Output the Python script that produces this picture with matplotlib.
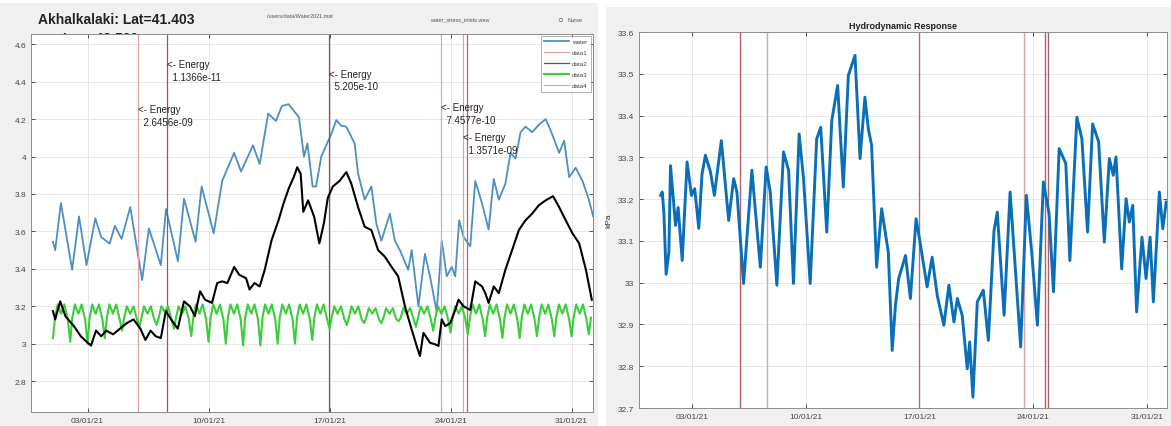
import numpy as np
import matplotlib.pyplot as plt
import matplotlib.dates as mdates
from matplotlib.patches import Rectangle
from matplotlib.ticker import FuncFormatter

plt.rcParams['font.family'] = ['Liberation Sans', 'DejaVu Sans']

# days since 01/01/21 00:00
water_t = [0, 0.13, 0.46, 1.11, 1.51, 1.94, 2.45, 2.79, 3.28, 3.58, 3.97, 4.47, 5.16, 5.55,
           6.24, 6.54, 7.23, 7.58, 8.25, 8.6, 9.3, 9.79, 10.48, 10.88, 11.57, 11.96, 12.45,
           12.9, 13.24, 13.63, 14.23, 14.52, 14.72, 15.02, 15.22, 15.52, 16.1, 16.39, 16.68,
           16.97, 17.45, 17.65, 18.03, 18.42, 18.71, 19.0, 19.49, 19.78, 20.07, 20.55, 20.75,
           21.14, 21.52, 21.81, 22.2, 22.49, 22.78, 23.07, 23.27, 23.5, 23.75, 24.14, 24.43,
           24.82, 25.2, 25.5, 25.79, 26.17, 26.47, 26.76, 27.05, 27.34, 27.72, 28.11, 28.5,
           28.79, 29.28, 29.57, 29.86, 30.24, 30.63, 31.0, 31.25]
water_v = [3.545, 3.50, 3.752, 3.395, 3.68, 3.42, 3.67, 3.57, 3.535, 3.63, 3.56, 3.73, 3.34, 3.616,
           3.42, 3.72, 3.44, 3.775, 3.545, 3.84, 3.59, 3.87, 4.02, 3.92, 4.06, 3.96, 4.23,
           4.19, 4.27, 4.28, 4.21, 4.0, 4.07, 3.84, 3.84, 4.0, 4.12, 4.195, 4.165,
           4.16, 4.07, 3.91, 3.77, 3.84, 3.64, 3.55, 3.695, 3.55, 3.50, 3.395, 3.50,
           3.20, 3.48, 3.36, 3.17, 3.55, 3.36, 3.41, 3.36, 3.66, 3.57, 3.52, 3.87,
           3.75, 3.61, 3.88, 3.77, 3.855, 4.02, 3.99, 4.13, 4.16, 4.13, 4.17, 4.20,
           4.14, 4.02, 4.085, 3.89, 3.94, 3.87, 3.77, 3.68]

stage_t = [0, 0.13, 0.42, 0.72, 1.21, 1.61, 1.9, 2.2, 2.49, 2.79, 3.08, 3.48, 3.87, 4.27, 4.66,
           5.06, 5.35, 5.65, 5.94, 6.24, 6.53, 6.83, 7.22, 7.58, 7.92, 8.21, 8.51, 8.8, 9.2,
           9.5, 9.79, 10.09, 10.48, 10.78, 11.17, 11.37, 11.66, 11.96, 12.25, 12.65, 13.05,
           13.34, 13.64, 13.93, 14.13, 14.33, 14.48, 14.76, 15.11, 15.41, 15.67, 15.9, 16.19,
           16.58, 16.97, 17.26, 17.65, 18.03, 18.42, 18.81, 19.2, 19.59, 19.97, 20.36, 20.75,
           21.04, 21.23, 21.43, 21.81, 22.1, 22.3, 22.49, 22.69, 22.98, 23.27, 23.46, 23.75,
           24.14, 24.43, 24.82, 25.01, 25.2, 25.5, 25.79, 26.17, 26.56, 26.95, 27.34, 27.72,
           28.11, 28.5, 28.93, 29.28, 29.66, 30.05, 30.44, 30.83, 31.17]
stage_v = [3.174, 3.13, 3.226, 3.147, 3.094, 3.04, 3.014, 2.99, 3.07, 3.04, 3.07, 3.05, 3.08, 3.11, 3.13,
           3.08, 3.02, 3.07, 3.04, 3.03, 3.174, 3.13, 3.08, 3.226, 3.20, 3.147, 3.28, 3.235, 3.218,
           3.324, 3.333, 3.324, 3.41, 3.368, 3.35, 3.29, 3.324, 3.306, 3.395, 3.554, 3.66,
           3.75, 3.83, 3.89, 3.943, 3.908, 3.705, 3.766, 3.678, 3.536, 3.642, 3.78, 3.84,
           3.87, 3.917, 3.855, 3.73, 3.625, 3.607, 3.50, 3.465, 3.41, 3.36, 3.20, 3.076,
           2.988, 2.934, 3.058, 3.005, 2.997, 2.988, 3.13, 3.094, 3.11, 3.18, 3.235, 3.20,
           3.18, 3.333, 3.306, 3.27, 3.218, 3.306, 3.27, 3.395, 3.50, 3.607, 3.66, 3.695,
           3.74, 3.766, 3.788, 3.73, 3.66, 3.59, 3.536, 3.395, 3.235]

# daily cycle of data3: trough at start of each day, two peaks between
tide_trough = [3.03, 3.01, 3.00, 3.03, 3.07, 3.09, 3.10, 3.08, 3.04, 3.01, 3.00, 2.99, 2.99, 3.00,
               3.00, 3.02, 3.08, 3.10, 3.11, 3.11, 3.12, 3.09, 3.07, 3.06, 3.05, 3.04, 3.03, 3.03,
               3.04, 3.04, 3.04, 3.05]
tide_peak = [3.21, 3.21, 3.21, 3.21, 3.20, 3.20, 3.20, 3.20, 3.21, 3.21, 3.21, 3.21, 3.21, 3.21,
             3.21, 3.21, 3.20, 3.20, 3.19, 3.19, 3.19, 3.20, 3.20, 3.20, 3.21, 3.21, 3.21, 3.21,
             3.21, 3.21, 3.21, 3.21]
tide_dip = [3.16, 3.16, 3.16, 3.16, 3.16, 3.16, 3.17, 3.16, 3.16, 3.16, 3.16, 3.16, 3.16, 3.16,
            3.16, 3.16, 3.16, 3.16, 3.16, 3.16, 3.16, 3.16, 3.16, 3.16, 3.16, 3.16, 3.16, 3.16,
            3.16, 3.16, 3.16, 3.16]

hydro_t = [0.06, 0.16, 0.26, 0.4, 0.57, 0.67, 0.98, 1.14, 1.39, 1.69, 1.96, 2.16, 2.41, 2.61, 2.82,
           3.13, 3.37, 3.8, 4.25, 4.56, 4.76, 5.17, 5.68, 6.2, 6.56, 6.81, 7.22, 7.63, 7.94, 8.24,
           8.59, 8.86, 9.27, 9.67, 9.92, 10.29, 10.6, 10.96, 11.31, 11.62, 12.03, 12.34, 12.64,
           12.85, 13.05, 13.36, 13.67, 14.08, 14.32, 14.52, 14.72, 15.14, 15.44, 15.79, 16.0,
           16.47, 16.78, 17.09, 17.5, 17.81, 18.12, 18.33, 18.63, 18.94, 19.09, 19.29, 19.56,
           19.93, 20.24, 20.59, 20.79, 21.21, 21.58, 22.23, 22.58, 22.91, 23.26, 23.63, 23.98,
           24.25, 24.6, 25.01, 25.26, 25.69, 26.0, 26.35, 26.66, 27.03, 27.38, 27.69, 27.93,
           28.1, 28.45, 28.72, 28.92, 29.13, 29.37, 29.7, 29.95, 30.2, 30.4, 30.77, 30.98, 31.19]
hydro_v = [33.209, 33.217, 33.169, 33.02, 33.073, 33.28, 33.137, 33.18, 33.053, 33.289, 33.209,
           33.225, 33.13, 33.26, 33.305, 33.265, 33.209, 33.34, 33.149, 33.249, 33.217, 32.998,
           33.269, 33.037, 33.277, 33.217, 32.994, 33.313, 33.269, 32.998, 33.356, 33.249, 32.998,
           33.344, 33.372, 33.121, 33.388, 33.472, 33.229, 33.496, 33.544, 33.297, 33.444, 33.368,
           33.329, 33.037, 33.177, 33.073, 32.838, 32.946, 33.01, 33.065, 32.962, 33.153, 33.105,
           32.99, 33.061, 32.97, 32.898, 32.994, 32.906, 32.962, 32.922, 32.794, 32.858, 32.726,
           32.954, 32.982, 32.862, 33.125, 33.169, 32.922, 33.217, 32.846, 33.209, 33.073, 32.898,
           33.241, 33.165, 32.978, 33.321, 33.285, 33.053, 33.396, 33.344, 33.121, 33.38, 33.337,
           33.097, 33.297, 33.257, 33.301, 33.033, 33.201, 33.145, 33.185, 32.93, 33.109, 33.01,
           33.109, 32.954, 33.217, 33.129, 33.193]

event_t = [4.93, 6.6, 15.95, 22.46, 23.7, 23.93]
event_energy = ['2.6456e-09', '1.1366e-11', '5.205e-10', '7.4577e-10', '1.3571e-09', None]
event_label_y = [4.22, 4.46, 4.41, 4.23, 4.07, None]
left_event_colors = ['#e3a3a3', '#a85050', '#a04848', '#e3a3a3', '#e3a3a3', '#b86060']
right_event_colors = ['#b86060', '#dba0a0', '#b07070', '#dba0a0', '#b86060', '#b06060']

start = np.datetime64('2021-01-01T00:00')


def to_dates(t):
    return start + (np.asarray(t) * 86400).astype('timedelta64[s]')


# build data3 path from the daily values
tide_t, tide_v = [], []
for d in range(len(tide_trough)):
    tide_t += [d, d + 0.12, d + 0.27, d + 0.47, d + 0.66, d + 0.86]
    tide_v += [tide_trough[d], 3.14, tide_peak[d], tide_dip[d], tide_peak[d], 3.13]
tide_t = [t for t in tide_t if t <= 31.2]
tide_v = tide_v[:len(tide_t)]

fig = plt.figure(figsize=(11.71, 4.27), dpi=100, facecolor='white')
fig.patches.append(Rectangle((0, 0), 598 / 1171, 423 / 427, transform=fig.transFigure,
                             facecolor='#f0f0f0', edgecolor='none', zorder=-5))
fig.patches.append(Rectangle((606 / 1171, 0), 565 / 1171, 419 / 427, transform=fig.transFigure,
                             facecolor='#f0f0f0', edgecolor='none', zorder=-5))

ax1 = fig.add_axes([31 / 1171, 14 / 427, 562 / 1171, 378 / 427])
ax2 = fig.add_axes([639 / 1171, 18 / 427, 528 / 1171, 376 / 427])

xlo = to_dates([-1.27])[0]
xhi = to_dates([31.24])[0]
ticks = [np.datetime64('2021-01-03'), np.datetime64('2021-01-10'), np.datetime64('2021-01-17'),
         np.datetime64('2021-01-24'), np.datetime64('2021-01-31')]

for ax in (ax1, ax2):
    ax.set_xlim(xlo, xhi)
    ax.set_xticks(ticks)
    ax.xaxis.set_major_formatter(mdates.DateFormatter('%d/%m/%y'))
    ax.grid(True, color='#e6e6e6', lw=0.7)
    ax.set_axisbelow(True)
    ax.tick_params(direction='in', length=3, width=0.6, labelsize=6, colors='#333333',
                   top=True, right=True, labelcolor='#444444')
    for s in ax.spines.values():
        s.set_color('#8c8c8c')
        s.set_linewidth(0.7)
    ax.yaxis.set_major_formatter(FuncFormatter(lambda v, p: '%g' % round(v, 2)))

# left panel
ax1.set_ylim(2.635, 4.655)
ax1.set_yticks([2.8, 3.0, 3.2, 3.4, 3.6, 3.8, 4.0, 4.2, 4.4, 4.6])
ax1.plot(to_dates(water_t), water_v, color='#4b8fc4', lw=1.3, label='water')
for i, t in enumerate(event_t):
    lab = None
    if i == 0:
        lab = 'data1'
    ax1.axvline(to_dates([t])[0], color=left_event_colors[i], lw=0.9, label=lab)
ax1.plot([], [], color='#7b4a4a', lw=0.9, label='data2')
ax1.plot(to_dates(tide_t), tide_v, color='#3ccc3c', lw=1.5, label='data3', zorder=3)
ax1.plot(to_dates(stage_t), stage_v, color='black', lw=1.5, zorder=4)
ax1.plot([], [], color='#e3a3a3', lw=0.9, label='data4')

for t, e, y in zip(event_t, event_energy, event_label_y):
    if e is None:
        continue
    ax1.text(to_dates([t])[0], y, '<- Energy\n  ' + e, fontsize=7, color='#222222',
             va='center', ha='left', linespacing=1.3)

leg = ax1.legend(loc='upper right', fontsize=4.5, handlelength=4, frameon=True,
                 fancybox=False, edgecolor='#8c8c8c', borderpad=0.5, labelspacing=0.9,
                 handletextpad=0.5, borderaxespad=0.3)
leg.get_frame().set_linewidth(0.6)
for txt in leg.get_texts():
    txt.set_color('#444444')

fig.text(38 / 1171, 1 - 20 / 427, 'Akhalkalaki: Lat=41.403', fontsize=10, fontweight='bold',
         color='#222222', va='center')
fig.text(62 / 1171, 1 - 39 / 427, 'Lon=43.500', fontsize=10, fontweight='bold',
         color='#222222', va='center', zorder=-1)
fig.text(300 / 1171, 1 - 17 / 427, '/users/data/Water2021.mat', fontsize=4, color='#555555',
         ha='center', va='center')
fig.text(460 / 1171, 1 - 20 / 427, 'water_stress_inlets.view', fontsize=4, color='#555555',
         ha='center', va='center')
fig.text(560 / 1171, 1 - 20 / 427, '\u25cb', fontsize=7, color='#444444', ha='center', va='center')
fig.text(568 / 1171, 1 - 20 / 427, 'Nurse', fontsize=4, color='#555555', ha='left', va='center')

# right panel
ax2.set_ylim(32.7, 33.6)
ax2.set_yticks(np.round(np.arange(32.7, 33.61, 0.1), 1))
for i, t in enumerate(event_t):
    ax2.axvline(to_dates([t])[0], color=right_event_colors[i], lw=1.0)
ax2.plot(to_dates(hydro_t), hydro_v, color='#0a6fb8', lw=2.1)
ax2.set_title('Hydrodynamic Response', fontsize=6.5, fontweight='bold', color='#222222', pad=3)
ax2.set_ylabel('kPa', fontsize=6, color='#333333', labelpad=4)

plt.savefig('out.png', dpi=100, facecolor=fig.get_facecolor())
